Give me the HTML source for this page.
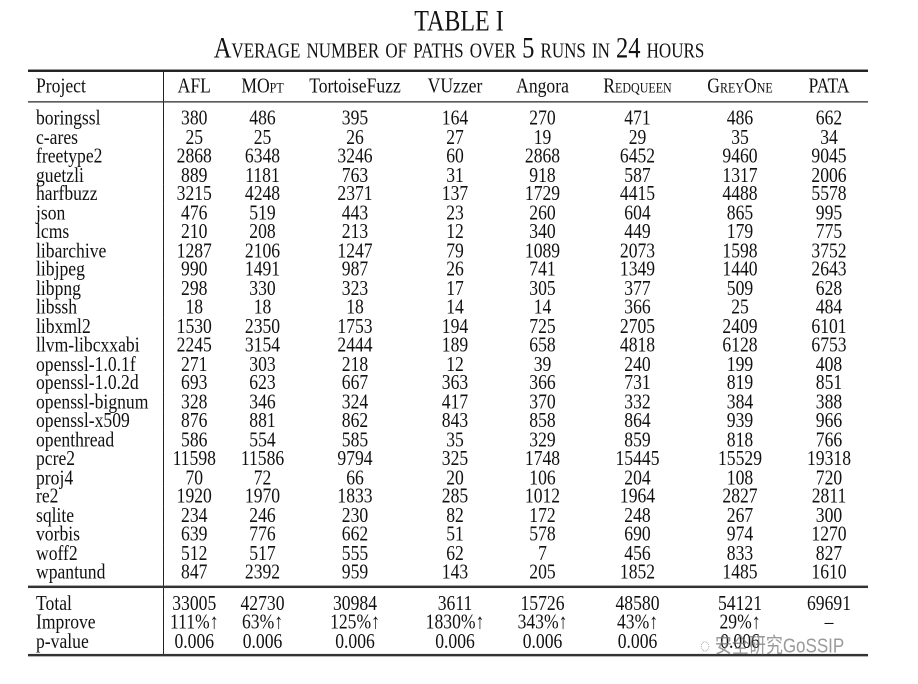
<!DOCTYPE html>
<html><head><meta charset="utf-8"><style>
body{margin:0;width:918px;height:684px;background:#fff;font-family:"Liberation Serif",serif;color:#111;position:relative;overflow:hidden}
#wrap{position:absolute;left:0;top:0;width:918px;height:561px;transform:scale(1,1.22);transform-origin:0 0}
.t{position:absolute;left:0;width:918px;text-align:center}
table{position:absolute;left:28px;top:57.3px;width:840px;border-collapse:collapse;table-layout:fixed;font-size:17.6px}
td{padding:0;text-align:center;height:15.5px;line-height:15.5px;white-space:nowrap}
td:first-child{text-align:left;padding-left:8px}
td:nth-child(2){border-left:1px solid #222}
thead td{height:23.5px;line-height:23.5px;border-top:2px solid #222;border-bottom:1px solid #222}
.sc{font-variant:small-caps}
.pad td{height:5.4px;line-height:5.4px}
.pad2 td{height:4.5px;line-height:4.5px}
.sep td{border-bottom:2px solid #333;height:3.4px;line-height:3.4px}
.last td{border-bottom:2px solid #333;height:3px;line-height:3px}
</style></head><body>
<div id="wrap">
<div class="t" style="top:4.5px;font-size:24px">TABLE I</div>
<div class="t sc" style="top:26px;font-size:24.5px">Average number of paths over 5 runs in 24 hours</div>
<table>
<colgroup><col style="width:135px"><col style="width:62px"><col style="width:75px"><col style="width:110px"><col style="width:90px"><col style="width:85px"><col style="width:105px"><col style="width:100px"><col style="width:78px"></colgroup>
<thead><tr><td>Project</td><td>AFL</td><td class="sc">MOpt</td><td>TortoiseFuzz</td><td>VUzzer</td><td>Angora</td><td class="sc">Redqueen</td><td class="sc">GreyOne</td><td>PATA</td></tr></thead>
<tbody id="tb"></tbody>
</table>
<div style="position:absolute;left:700px;top:515px;font-family:'Liberation Sans','Noto Sans CJK SC',sans-serif;font-size:17px;color:rgba(120,120,120,0.75)">◌ 安全研究GoSSIP</div>
</div>
<script>
const rows=[
["boringssl",380,486,395,164,270,471,486,662],
["c-ares",25,25,26,27,19,29,35,34],
["freetype2",2868,6348,3246,60,2868,6452,9460,9045],
["guetzli",889,1181,763,31,918,587,1317,2006],
["harfbuzz",3215,4248,2371,137,1729,4415,4488,5578],
["json",476,519,443,23,260,604,865,995],
["lcms",210,208,213,12,340,449,179,775],
["libarchive",1287,2106,1247,79,1089,2073,1598,3752],
["libjpeg",990,1491,987,26,741,1349,1440,2643],
["libpng",298,330,323,17,305,377,509,628],
["libssh",18,18,18,14,14,366,25,484],
["libxml2",1530,2350,1753,194,725,2705,2409,6101],
["llvm-libcxxabi",2245,3154,2444,189,658,4818,6128,6753],
["openssl-1.0.1f",271,303,218,12,39,240,199,408],
["openssl-1.0.2d",693,623,667,363,366,731,819,851],
["openssl-bignum",328,346,324,417,370,332,384,388],
["openssl-x509",876,881,862,843,858,864,939,966],
["openthread",586,554,585,35,329,859,818,766],
["pcre2",11598,11586,9794,325,1748,15445,15529,19318],
["proj4",70,72,66,20,106,204,108,720],
["re2",1920,1970,1833,285,1012,1964,2827,2811],
["sqlite",234,246,230,82,172,248,267,300],
["vorbis",639,776,662,51,578,690,974,1270],
["woff2",512,517,555,62,7,456,833,827],
["wpantund",847,2392,959,143,205,1852,1485,1610]];
const summary=[
["Total",33005,42730,30984,3611,15726,48580,54121,69691],
["Improve","111%↑","63%↑","125%↑","1830%↑","343%↑","43%↑","29%↑","–"],
["p-value","0.006","0.006","0.006","0.006","0.006","0.006","0.006",""]];
const tb=document.getElementById('tb');
function spacer(cls){const tr=document.createElement('tr');tr.className=cls;


for(let i=0;i<9;i++)tr.appendChild(document.createElement('td'));tb.appendChild(tr);}
function add(r){const tr=document.createElement('tr');


r.forEach(v=>{const td=document.createElement('td');td.textContent=v;tr.appendChild(td);});tb.appendChild(tr);}
spacer('pad');rows.forEach(add);spacer('sep');spacer('pad2');summary.forEach(add);spacer('last');
</script>
</body></html>
